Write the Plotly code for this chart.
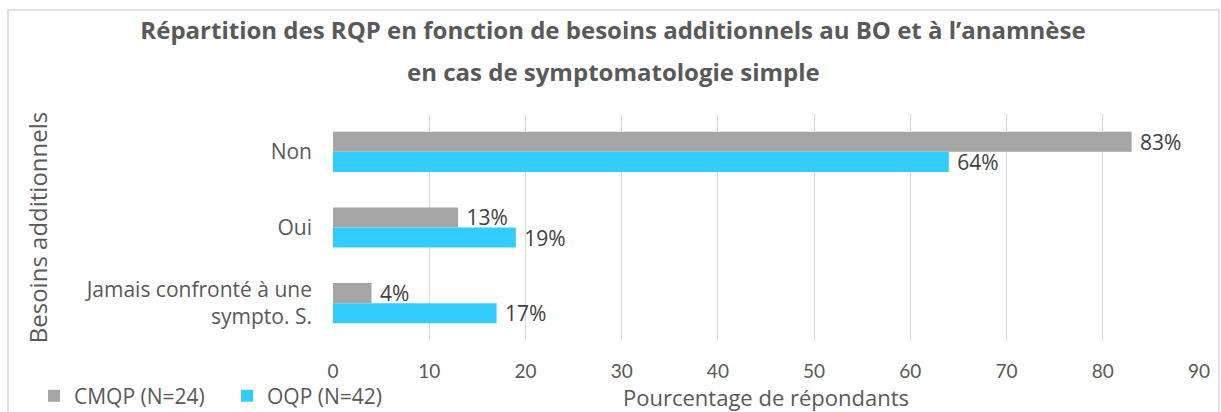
import plotly.graph_objects as go

categories = ["Non", "Oui", "Jamais confronté à une<br>sympto. S."]
cmqp = [83, 13, 4]
oqp = [64, 19, 17]
series_names = ["CMQP (N=24)", "OQP (N=42)"]
x_ticks = [0, 10, 20, 30, 40, 50, 60, 70, 80, 90]
title_lines = ["Répartition des RQP en fonction de besoins additionnels au BO et à l’anamnèse",
               "en cas de symptomatologie simple"]

W, H = 1221, 412
ml, mr, mt, mb = 333, 22, 114, 71
pw, ph = W - ml - mr, H - mt - mb

def px(x):
    return (x - ml) / pw

def py(y):
    return (H - mb - y) / ph

sans = "Open Sans, Noto Sans, sans-serif"
lato = "Lato, Open Sans, sans-serif"
title_font = dict(family=sans, size=24, color="#595959", weight="bold")

fig = go.Figure()
for name, vals, col in [(series_names[0], cmqp, "#a5a5a5"), (series_names[1], oqp, "#33ccff")]:
    fig.add_trace(go.Bar(
        y=categories, x=vals, name=name, orientation="h",
        marker=dict(color=col, line=dict(width=0)),
        text=[f" {v}%" for v in vals], textposition="outside",
        textfont=dict(family=sans, size=21, color="#404040"),
        constraintext="none", cliponaxis=False,
    ))

fig.update_layout(
    width=W, height=H,
    margin=dict(l=ml, r=mr, t=mt, b=mb, autoexpand=False),
    paper_bgcolor="white", plot_bgcolor="white",
    barmode="group", bargap=0.47, bargroupgap=0,
    title=dict(
        text=title_lines[0],
        xref="container", x=613 / W, xanchor="center", y=1 - 31 / H, yanchor="middle",
        font=title_font,
    ),
    xaxis=dict(
        range=[0, 90], tickvals=x_ticks, showgrid=True, gridcolor="#d9d9d9", gridwidth=1,
        zeroline=False, showline=False, ticks="", ticklen=0,
        ticklabelstandoff=17,
        tickfont=dict(family=lato, size=19, color="#595959"),
        title=dict(text="Pourcentage de répondants", standoff=2,
                   font=dict(family=sans, size=22, color="#595959")),
    ),
    yaxis=dict(
        autorange="reversed", showgrid=False, zeroline=False, showline=False, ticks="",
        ticklabelstandoff=20,
        tickfont=dict(family=sans, size=21, color="#595959"),
        title=dict(text="Besoins additionnels", standoff=30,
                   font=dict(family=sans, size=24, color="#595959")),
    ),
    legend=dict(
        orientation="h", x=px(34), xanchor="left", y=py(396), yanchor="middle",
        font=dict(family=sans, size=21, color="#595959"),
        entrywidth=148, entrywidthmode="pixels",
        traceorder="normal", bgcolor="rgba(0,0,0,0)",
    ),
    annotations=[dict(text=title_lines[1], xref="paper", yref="paper",
                      x=px(613), y=py(71), xanchor="center", yanchor="middle",
                      showarrow=False, font=title_font)],
    shapes=[dict(type="rect", xref="paper", yref="paper",
                 x0=px(8), x1=px(1219), y0=py(430), y1=py(10),
                 line=dict(color="#d9d9d9", width=1.5), layer="below")],
)

fig.write_html("out.html", config={"displayModeBar": False},
               post_script="document.body.style.margin='0';document.body.style.overflow='hidden';")
